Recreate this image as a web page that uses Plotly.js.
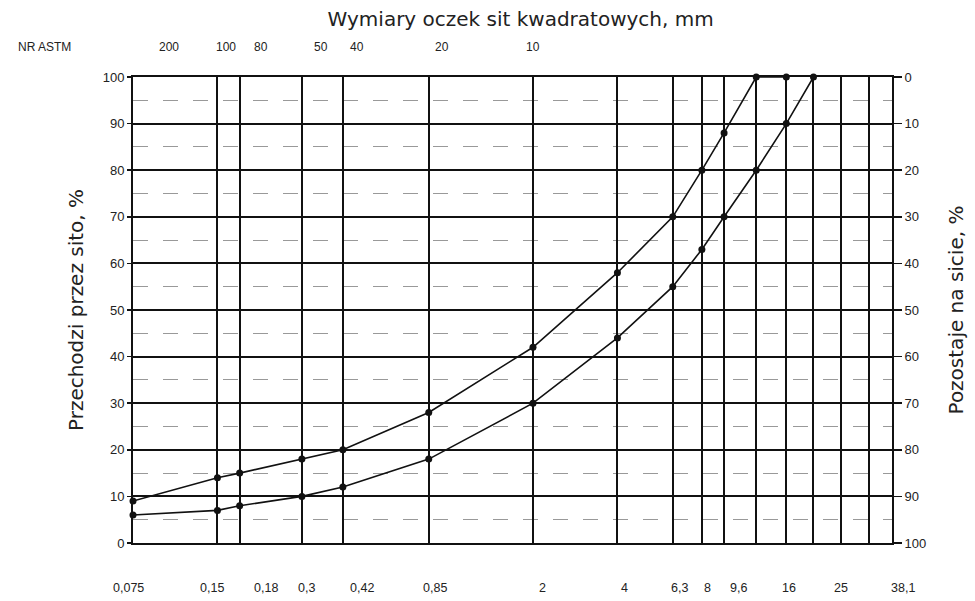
<!DOCTYPE html>
<html>
<head>
<meta charset="utf-8">
<script src="https://cdn.plot.ly/plotly-3.0.1.min.js"></script>
<style>html,body{margin:0;padding:0;background:#fff;}#chart{width:975px;height:601px;}</style>
</head>
<body>
<div id="chart"></div>
<script>
// Sieve sizes (mm) drawn as vertical grid lines
const gridSieves = [0.075, 0.15, 0.18, 0.3, 0.42, 0.85, 2, 4, 6.3, 8, 9.6, 12.5, 16, 20, 25, 31.5, 38.1];
// Bottom labels (mm)
const mmValues = [0.075, 0.15, 0.18, 0.3, 0.42, 0.85, 2, 4, 6.3, 8, 9.6, 16, 25, 38.1];
const mmLabels = ['0,075', '0,15', '0,18', '0,3', '0,42', '0,85', '2', '4', '6,3', '8', '9,6', '16', '25', '38,1'];
// ASTM sieve numbers and their openings (mm)
const astmLabels = ['200', '100', '80', '50', '40', '20', '10'];
const astmMm = [0.075, 0.15, 0.18, 0.3, 0.42, 0.85, 2];
// Grading curves: sieve (mm) and passing (%)
const upperX = [0.075, 0.15, 0.18, 0.3, 0.42, 0.85, 2, 4, 6.3, 8, 9.6, 12.5, 16];
const upperY = [9, 14, 15, 18, 20, 28, 42, 58, 70, 80, 88, 100, 100];
const lowerX = [0.075, 0.15, 0.18, 0.3, 0.42, 0.85, 2, 4, 6.3, 8, 9.6, 12.5, 16, 20];
const lowerY = [6, 7, 8, 10, 12, 18, 30, 44, 55, 63, 70, 80, 90, 100];
const leftTicks = [0, 10, 20, 30, 40, 50, 60, 70, 80, 90, 100];
const rightTicks = [0, 10, 20, 30, 40, 50, 60, 70, 80, 90, 100];

// label pixel shifts (styling only)
const mmShift = [-5, -5, 26, 5, 19, 6, 10, 7, 7, 6, 14, 3, 0, 11];
const astmShift = [36, 9, 21, 19, 14, 13, 0];

const FONT = 'Liberation Sans, Arial, sans-serif';
const TFONT = 'DejaVu Sans, Liberation Sans, sans-serif';
const TXT = '#222';

const lineStyle = {color: '#111', width: 1.6};
const markerStyle = {color: '#111', size: 7};

const traces = [
  {x: upperX, y: upperY, type: 'scatter', mode: 'lines+markers', line: lineStyle, marker: markerStyle, showlegend: false, cliponaxis: false},
  {x: lowerX, y: lowerY, type: 'scatter', mode: 'lines+markers', line: lineStyle, marker: markerStyle, showlegend: false, cliponaxis: false},
  {x: [], y: [], yaxis: 'y2', type: 'scatter', showlegend: false}
];

const annotations = [];
mmValues.forEach((v, i) => annotations.push({
  x: Math.log10(v), y: -0.0966, xref: 'x', yref: 'paper', text: mmLabels[i], showarrow: false,
  xanchor: 'center', yanchor: 'middle', xshift: mmShift[i], font: {family: FONT, size: 12.5, color: TXT}
}));
astmMm.forEach((v, i) => annotations.push({
  x: Math.log10(v), y: 1.064, xref: 'x', yref: 'paper', text: astmLabels[i], showarrow: false,
  xanchor: 'center', yanchor: 'middle', xshift: astmShift[i], font: {family: FONT, size: 12, color: TXT}
}));
annotations.push({x: -0.116, y: 1.064, xref: 'paper', yref: 'paper', text: 'NR ASTM', showarrow: false,
  xanchor: 'center', yanchor: 'middle', font: {family: FONT, size: 12, color: TXT}});

const layout = {
  width: 975, height: 601,
  margin: {l: 133, r: 83, t: 77, b: 58},
  paper_bgcolor: '#fff', plot_bgcolor: '#fff',
  font: {family: FONT, color: TXT},
  title: {text: 'Wymiary oczek sit kwadratowych, mm', x: 0.534, xref: 'container', y: 0.968, yref: 'container',
    xanchor: 'center', yanchor: 'middle', font: {family: TFONT, size: 20, color: TXT}},
  xaxis: {
    type: 'log', range: [Math.log10(0.075), Math.log10(38.1)],
    tickvals: gridSieves, showticklabels: false, ticks: '',
    showgrid: true, gridcolor: '#111', gridwidth: 2,
    showline: true, linecolor: '#111', linewidth: 2, mirror: true, zeroline: false
  },
  yaxis: {
    range: [0, 100], tickvals: leftTicks, ticktext: leftTicks.map(String),
    ticks: 'outside', ticklen: 4, tickcolor: '#111', tickwidth: 1.5,
    showgrid: true, gridcolor: '#111', gridwidth: 2,
    minor: {dtick: 5, showgrid: true, gridcolor: '#999', griddash: 'longdash', gridwidth: 1, ticks: ''},
    showline: true, linecolor: '#111', linewidth: 2, zeroline: false,
    tickfont: {family: FONT, size: 13, color: TXT},
    title: {text: 'Przechodzi przez sito, %', font: {family: TFONT, size: 20, color: TXT}, standoff: 14}
  },
  yaxis2: {
    overlaying: 'y', side: 'right', range: [100, 0], tickvals: rightTicks, ticktext: rightTicks.map(String),
    ticks: 'outside', ticklen: 8, tickcolor: '#111', tickwidth: 1.5, showgrid: false, zeroline: false,
    showline: true, linecolor: '#111', linewidth: 2,
    tickfont: {family: FONT, size: 13, color: TXT},
    title: {text: 'Pozostaje na sicie, %', font: {family: TFONT, size: 20, color: TXT}, standoff: 24}
  },
  annotations: annotations
};

Plotly.newPlot('chart', traces, layout, {displayModeBar: false, staticPlot: true});
</script>
</body>
</html>
